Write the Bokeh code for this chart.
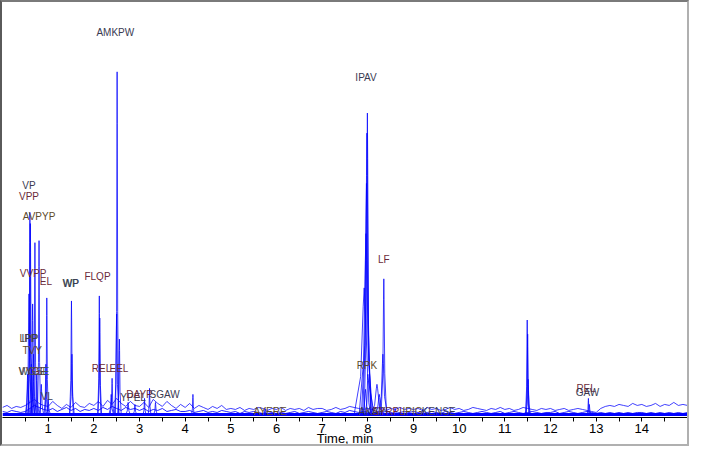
from bokeh.plotting import figure
from bokeh.models import Range1d, FixedTicker, ColumnDataSource
from bokeh.core.properties import value
from bokeh.embed import file_html
from bokeh.resources import INLINE

# ---------------- data ----------------
# baseline noise traces, sampled every 0.1 min from 0 to 15 min (relative intensity)
NOISE_STEP = 0.1
noise_hi = [
    7, 9, 6, 8, 7, 9, 12, 15, 11, 9,
    8, 13, 9, 6, 10, 7, 12, 8, 7, 11,
    9, 13, 8, 14, 10, 16, 11, 8, 13, 9,
    8, 12, 7, 15, 11, 8, 13, 9, 6, 10,
    7, 11, 6, 9, 7, 5, 8, 6, 9, 5,
    6, 5, 7, 4, 6, 5, 7, 6, 4, 6,
    5, 7, 4, 6, 5, 6, 4, 7, 5, 6,
    6, 4, 5, 7, 5, 6, 8, 7, 6, 5,
    6, 5, 7, 6, 4, 6, 5, 7, 5, 6,
    5, 6, 4, 7, 5, 6, 4, 5, 7, 5,
    6, 4, 5, 7, 6, 5, 4, 6, 5, 7,
    5, 6, 4, 5, 7, 6, 5, 4, 6, 5,
    6, 4, 5, 6, 4, 5, 6, 5, 4, 3,
    2, 6, 8, 9, 8, 10, 9, 8, 11, 9,
    10, 8, 9, 11, 8, 10, 9, 12, 9, 10,
    9,
]
noise_lo = [
    3, 2, 4, 3, 2, 3, 6, 9, 7, 5,
    4, 6, 3, 5, 7, 4, 6, 3, 5, 4,
    6, 4, 7, 5, 8, 6, 4, 7, 5, 6,
    4, 6, 3, 5, 4, 6, 3, 4, 5, 3,
    3, 4, 2, 3, 4, 2, 3, 2, 4, 3,
    2, 3, 1, 3, 2, 3, 2, 1, 3, 2,
    3, 2, 1, 2, 3, 1, 2, 3, 2, 1,
    2, 3, 2, 1, 3, 2, 4, 3, 2, 3,
    2, 1, 3, 2, 3, 2, 1, 2, 3, 2,
    3, 2, 1, 2, 3, 2, 1, 3, 2, 1,
    2, 3, 2, 1, 2, 3, 2, 1, 2, 3,
    1, 2, 3, 2, 1, 2, 3, 2, 1, 2,
    2, 3, 1, 2, 3, 2, 1, 2, 3, 2,
    1, 2, 1, 2, 1, 2, 1, 2, 1, 2,
    2, 1, 2, 1, 2, 1, 2, 1, 2, 1,
    2,
]

# peaks: retention time (min), apex height, half base width (min)
peak_time = [0.60, 0.61, 0.58, 0.55, 0.63, 0.66, 0.68, 0.71, 0.75, 0.80, 0.85,
             0.95, 0.97, 1.00, 1.51, 1.52, 2.12, 2.13, 2.38, 2.40, 2.50, 2.51,
             2.56, 2.75, 2.90, 3.11, 3.22, 3.35, 4.17, 5.75,
             7.92, 7.95, 7.96, 7.97, 7.98, 7.99, 8.00, 8.20, 8.25, 8.33, 8.35,
             8.60, 9.20, 11.49, 11.50, 11.51, 12.83, 12.85]
peak_height = [201, 190, 120, 40, 50, 110, 60, 171, 40, 173, 30,
               50, 116, 15, 113, 60, 118, 96, 20, 36, 100, 341,
               75, 12, 10, 16, 26, 12, 20, 6,
               126, 25, 180, 230, 280, 300, 40, 30, 20, 60, 135,
               6, 5, 94, 80, 35, 16, 10]
peak_halfwidth = [0.04, 0.05, 0.06, 0.05, 0.08, 0.05, 0.06, 0.04, 0.05, 0.035, 0.05,
                  0.04, 0.035, 0.05, 0.04, 0.05, 0.035, 0.04, 0.05, 0.04, 0.05, 0.035,
                  0.04, 0.05, 0.04, 0.03, 0.03, 0.04, 0.03, 0.05,
                  0.22, 0.08, 0.15, 0.11, 0.09, 0.07, 0.06, 0.15, 0.10, 0.10, 0.06,
                  0.05, 0.05, 0.035, 0.04, 0.05, 0.03, 0.04]

# peak labels (text, retention time)
label_text = ["AMKPW", "IPAV", "VP", "VPP", "AVPYP", "VVPP", "EL", "WP", "WP",
              "FLQP", "LF", "LPP", "IPP", "TVY", "VYGE", "WGSE", "VL", "REL", "EEL",
              "YPEL", "DAYP", "SGAW", "RPK", "REL", "GAW", "AYERE",
              "AKAP", "SYRPL", "IPIG", "KENSE"]
label_time = [2.47, 7.96, 0.58, 0.58, 0.80, 0.67, 0.95, 1.49, 1.50,
              2.08, 8.35, 0.58, 0.59, 0.65, 0.66, 0.69, 0.97, 2.17, 2.55,
              2.86, 3.00, 3.55, 7.98, 12.78, 12.81, 5.86,
              8.09, 8.45, 8.98, 9.55]
# ---------------- layout / style ----------------
label_y = [380, 335, 228, 217, 197, 140, 132, 130, 130,
           137, 154, 76, 76, 64, 43, 43, 18, 46, 46,
           17, 20, 20, 49, 26, 22, 3,
           3, 3, 3, 3]
C_NAVY = "#3a3a52"
C_RED = "#6a2a3a"
C_BROWN = "#5e4a2a"
C_TEAL = "#3c5454"
label_color = [C_NAVY, C_NAVY, C_NAVY, C_RED, C_BROWN, C_RED, C_RED, C_TEAL, C_NAVY,
               C_RED, C_RED, C_BROWN, C_NAVY, C_BROWN, C_RED, C_TEAL, C_NAVY, C_RED, C_RED,
               C_NAVY, C_RED, C_NAVY, C_BROWN, C_RED, C_NAVY, C_BROWN,
               C_NAVY, C_RED, C_BROWN, C_NAVY]

FONT = "Liberation Sans"
BLUE = "#0000ff"

p = figure(width=689, height=446, output_backend="svg", toolbar_location=None,
           x_range=Range1d(0, 15), y_range=Range1d(-3, 410),
           min_border_left=0, min_border_right=4, min_border_top=0, min_border_bottom=30)
p.styles = {"border-left": "2px solid #5a5a5a", "border-top": "2px solid #7a7a7a",
            "border-right": "2px solid #b0b0b0", "border-bottom": "2px solid #b0b0b0"}
p.outline_line_color = None
p.xgrid.visible = False
p.ygrid.visible = False
p.yaxis.visible = False

# noise traces
nt = [round(i * NOISE_STEP, 1) for i in range(len(noise_hi))]
p.line(nt, noise_hi, color=BLUE, line_alpha=0.75, line_width=1)
p.line(nt, noise_lo, color=BLUE, line_alpha=0.85, line_width=1)
p.line([nt[0], nt[-1]], [0, 0], color=BLUE, line_width=3)

# peaks
xs, ys = [], []
for t, h, w in zip(peak_time, peak_height, peak_halfwidth):
    xs.append([t - w, t - 0.35 * w, t - 0.1 * w, t, t + 0.1 * w, t + 0.35 * w, t + w])
    ys.append([0, 0.3 * h, 0.85 * h, h, 0.85 * h, 0.3 * h, 0])
p.multi_line(xs, ys, line_color=BLUE, line_alpha=0.75, line_width=1)

src = ColumnDataSource(dict(x=label_time, y=label_y, text=label_text, color=label_color))
p.text(x="x", y="y", text="text", source=src, text_color="color",
       text_font=value(FONT), text_font_size="10px",
       text_align="center", text_baseline="middle")

ax = p.xaxis[0]
ax.ticker = FixedTicker(ticks=list(range(1, 15)),
                        minor_ticks=[i + 0.5 for i in range(15)])
ax.axis_label = "Time, min"
ax.axis_label_text_font = FONT
ax.axis_label_text_font_style = "normal"
ax.axis_label_text_font_size = "13px"
ax.axis_label_text_color = "black"
ax.axis_label_standoff = -5
ax.major_label_text_font = FONT
ax.major_label_text_font_size = "13px"
ax.major_label_text_color = "black"
ax.major_label_standoff = 2
ax.axis_line_color = "black"
ax.major_tick_line_color = "black"
ax.minor_tick_line_color = "black"
ax.major_tick_out = 4
ax.major_tick_in = 0
ax.minor_tick_out = 4
ax.minor_tick_in = 0

open("out.html", "w").write(file_html(p, INLINE))
